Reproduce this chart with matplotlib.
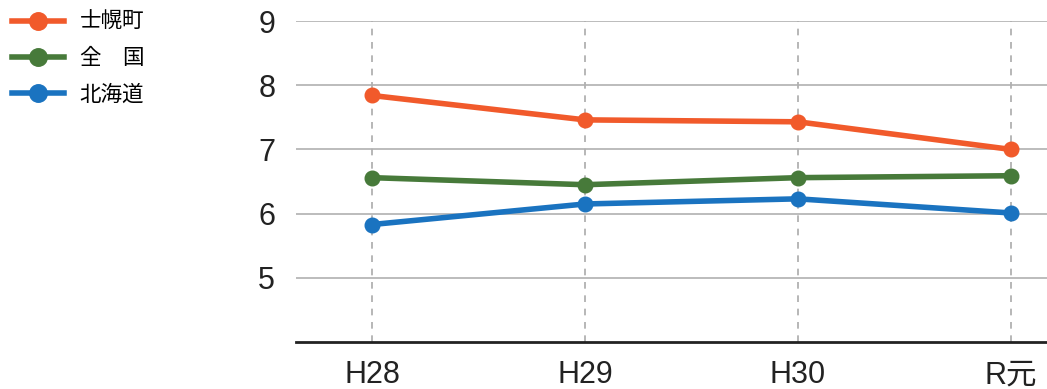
import matplotlib
matplotlib.use("Agg")
import matplotlib.pyplot as plt

plt.rcParams['font.family'] = ['Liberation Sans', 'Noto Sans CJK JP', 'DejaVu Sans']

years = ['H28', 'H29', 'H30', 'R元']
sapporo = [7.84, 7.46, 7.43, 7.00]
zenkoku = [6.56, 6.45, 6.56, 6.59]
hokkaido = [5.83, 6.15, 6.23, 6.01]

fig = plt.figure(figsize=(10.47, 3.89), dpi=100)
ax = fig.add_axes([0.2827, 0.1208, 0.7173, 0.8252])

x = range(len(years))
ax.plot(x, sapporo, color='#f15a2b', lw=4, marker='o', ms=10.5, label='士幌町', zorder=5)
ax.plot(x, zenkoku, color='#477a3a', lw=4, marker='o', ms=10.5, label='全　国', zorder=5)
ax.plot(x, hokkaido, color='#1a73c0', lw=4, marker='o', ms=10.5, label='北海道', zorder=5)

ax.set_ylim(4, 9)
ax.set_xlim(-0.357, 3.17)
ax.set_yticks([5, 6, 7, 8, 9])
ax.set_xticks(list(x))
ax.set_xticklabels(years)
ax.yaxis.grid(True, color='#b0b0b0', lw=1.2)
ax.xaxis.grid(True, color='#aaaaaa', lw=1.2, ls=(0, (4, 4)))
ax.set_axisbelow(True)
for s in ['top', 'right', 'left']:
    ax.spines[s].set_visible(False)
ax.spines['bottom'].set_linewidth(2)
ax.spines['bottom'].set_color('#222222')
ax.tick_params(axis='both', length=0, labelsize=22, colors='#222222')
ax.tick_params(axis='y', pad=15)
ax.tick_params(axis='x', pad=13)

fig.legend(loc='upper left', bbox_to_anchor=(-0.002, 1.007), frameon=False,
           prop={'family': ['Noto Sans CJK JP'], 'size': 15.5},
           handlelength=2.4, handletextpad=0.75, labelspacing=0.66,
           borderaxespad=0.25, markerscale=1.2)

fig.savefig('out.png', dpi=100)
